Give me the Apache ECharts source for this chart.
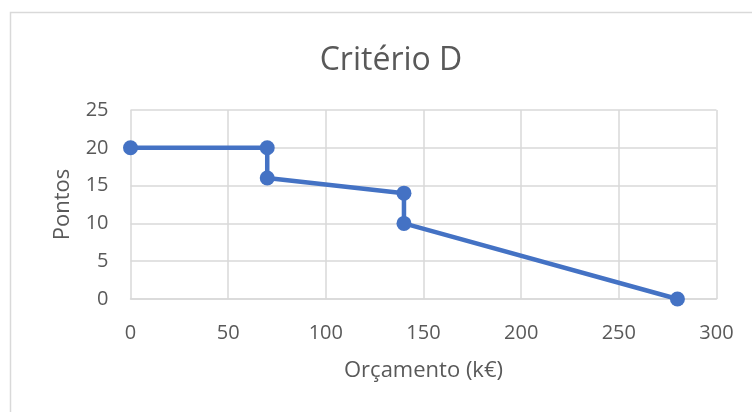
<!DOCTYPE html>
<html>
<head>
<meta charset="utf-8">
<script src="https://cdn.jsdelivr.net/npm/echarts@6/dist/echarts.min.js"></script>
<style>
html,body{margin:0;padding:0;background:#fff;}
#chart{width:752px;height:412px;}
</style>
</head>
<body>
<div id="chart"></div>
<script>
const chartTitle = "Critério D";
const xAxisTitle = "Orçamento (k€)";
const yAxisTitle = "Pontos";
const budget = [0, 70, 70, 140, 140, 280];
const points = [20, 20, 16, 14, 10, 0];
const xTicks = { min: 0, max: 300, interval: 50 };
const yTicks = { min: 0, max: 25, interval: 5 };

const data = budget.map((b, i) => [b, points[i]]);
const font = "'Open Sans', 'Noto Sans', sans-serif";
const txt = '#595959';
const gridCol = '#d9d9d9';

const chart = echarts.init(document.getElementById('chart'), null, {renderer: 'canvas'});
chart.setOption({
  animation: false,
  backgroundColor: '#ffffff',
  graphic: [{
    type: 'rect',
    shape: { x: 10.5, y: 12.5, width: 900, height: 600 },
    style: { fill: 'none', stroke: '#d9d9d9', lineWidth: 1.5 },
    silent: true, z: -10
  }],
  title: {
    text: chartTitle,
    left: 386, textAlign: 'center',
    top: 40,
    textStyle: { fontFamily: font, fontSize: 32, fontWeight: 'normal', color: txt }
  },
  grid: { left: 130.5, right: 35.5, top: 110, bottom: 113, containLabel: false },
  xAxis: {
    type: 'value',
    min: xTicks.min, max: xTicks.max, interval: xTicks.interval,
    name: xAxisTitle, nameLocation: 'middle', nameGap: 61,
    nameTextStyle: { fontFamily: font, fontSize: 22, color: txt },
    axisLine: { show: true, lineStyle: { color: gridCol, width: 1.5 } },
    axisTick: { show: false },
    axisLabel: { fontFamily: font, fontSize: 20, color: txt, margin: 24 },
    splitLine: { show: true, lineStyle: { color: gridCol, width: 1.5 } }
  },
  yAxis: {
    type: 'value',
    min: yTicks.min, max: yTicks.max, interval: yTicks.interval,
    name: yAxisTitle, nameLocation: 'middle', nameGap: 57, nameRotate: 90,
    nameTextStyle: { fontFamily: font, fontSize: 22, color: txt },
    axisLine: { show: false },
    axisTick: { show: false },
    axisLabel: { fontFamily: font, fontSize: 20, color: txt, margin: 22 },
    splitLine: { show: true, lineStyle: { color: gridCol, width: 1.5 } }
  },
  series: [{
    type: 'line',
    data: data,
    symbol: 'circle',
    symbolSize: 15,
    lineStyle: { color: '#4472C4', width: 4.5 },
    itemStyle: { color: '#4472C4' },
    clip: false
  }]
});
</script>
</body>
</html>
